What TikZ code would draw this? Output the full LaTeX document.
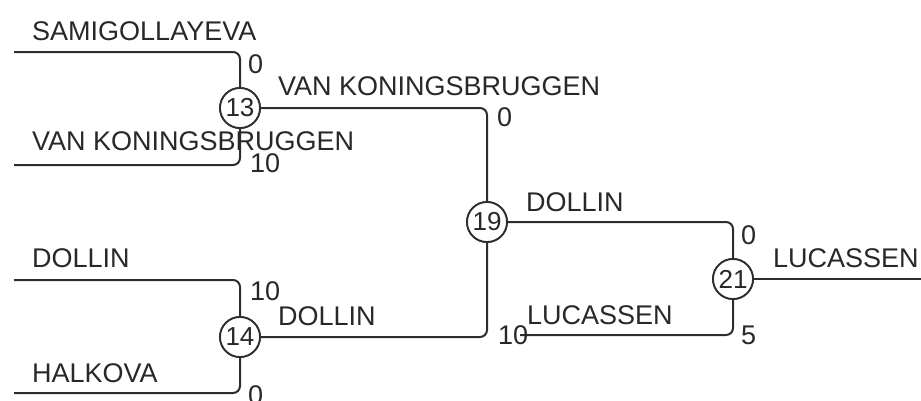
\documentclass[tikz,border=0pt]{standalone}
\usepackage{fontspec}
\setmainfont{Liberation Sans}
\definecolor{linec}{RGB}{45,45,45}
\definecolor{txtc}{RGB}{40,40,40}
\begin{document}
\begin{tikzpicture}[x=1pt,y=-1pt,
  ln/.style={draw=linec, line width=2pt, rounded corners=7pt},
  mc/.style={circle, draw=linec, fill=white, line width=1.8pt, minimum size=40pt, inner sep=0pt, font=\fontsize{26}{26}\selectfont, text=txtc},
  lbl/.style={anchor=base west, inner sep=0pt, font=\fontsize{27}{27}\selectfont, text=txtc}]
\useasboundingbox (0,0) rectangle (921,400);
% match nodes
\node[mc] (m13) at (240,108) {13};
\node[mc] (m14) at (240,337) {14};
\node[mc] (m19) at (487,222) {19};
\node[mc] (m21) at (733,279) {21};
% leaf starts
\coordinate (p1) at (14,52);
\coordinate (p2) at (14,165);
\coordinate (p3) at (14,280);
\coordinate (p4) at (14,393);
\coordinate (q1) at (520,335);
\coordinate (fin) at (921,279);
% connectors
\draw[ln] (p1) -| (m13.north);
\draw[ln] (p2) -| (m13.south);
\draw[ln] (p3) -| (m14.north);
\draw[ln] (p4) -| (m14.south);
\draw[ln] (m13.east) -| (m19.north);
\draw[ln] (m14.east) -| (m19.south);
\draw[ln] (m19.east) -| (m21.north);
\draw[ln] (q1) -| (m21.south);
\draw[ln] (m21.east) -- (fin);
% redraw circles on top
\node[mc] at (m13) {13};
\node[mc] at (m14) {14};
\node[mc] at (m19) {19};
\node[mc] at (m21) {21};
% names
\node[lbl] (t1) at (32,40) {SAMIGOLLAYEVA};
\node[lbl] (t2) at (32,150) {VAN KONINGSBRUGGEN};
\node[lbl] (t3) at (32,267) {DOLLIN};
\node[lbl] (t4) at (32,382) {HALKOVA};
\node[lbl] (t5) at (278,95) {VAN KONINGSBRUGGEN};
\node[lbl] (t6) at (278,325) {DOLLIN};
\node[lbl] (t7) at (526,211) {DOLLIN};
\node[lbl] (t8) at (527,324) {LUCASSEN};
\node[lbl] (t9) at (773,267) {LUCASSEN};
% scores
\node[lbl] (s1) at (248,73) {0};
\node[lbl] (s2) at (250,172) {10};
\node[lbl] (s3) at (250,300) {10};
\node[lbl] (s4) at (248,404) {0};
\node[lbl] (s5) at (497,126) {0};
\node[lbl] (s6) at (498,344) {10};
\node[lbl] (s7) at (741,244) {0};
\node[lbl] (s8) at (741,344) {5};
\end{tikzpicture}
\end{document}
